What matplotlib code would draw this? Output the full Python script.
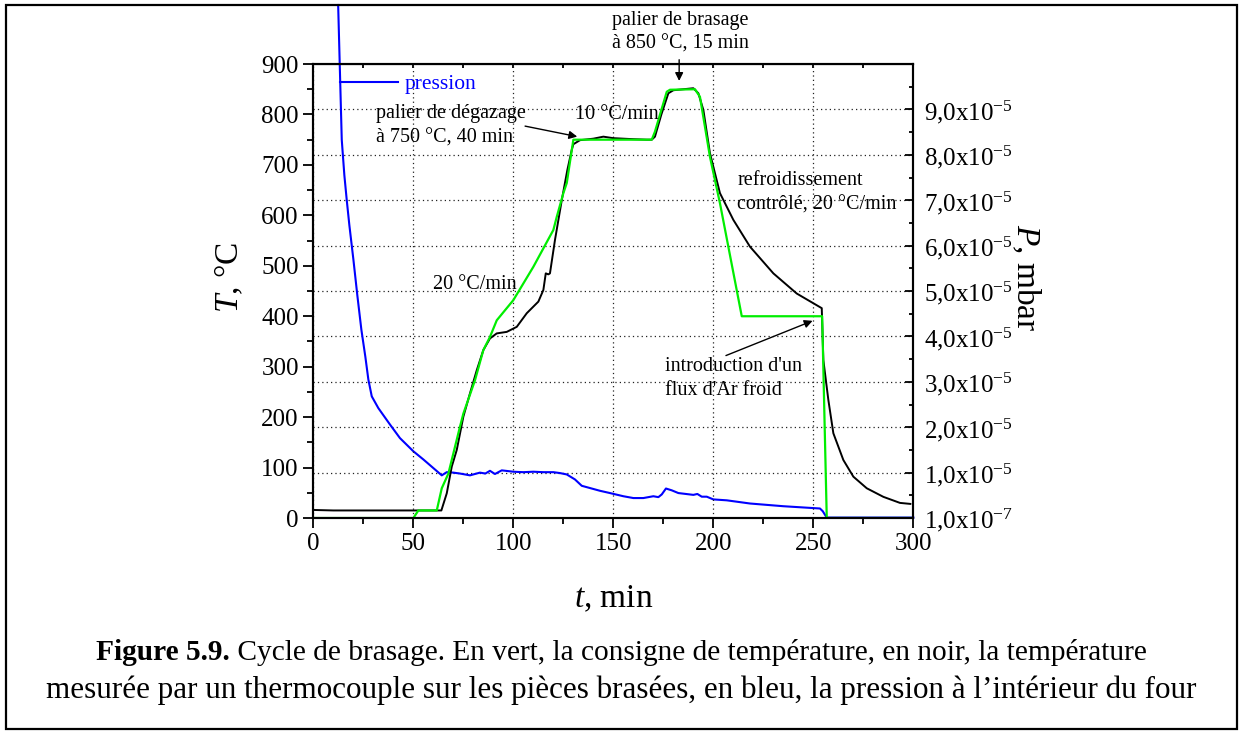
import numpy as np
import matplotlib
matplotlib.use("Agg")
import matplotlib.pyplot as plt
from matplotlib.ticker import MultipleLocator, FixedLocator

plt.rcParams['font.family'] = ['Liberation Serif', 'DejaVu Serif']
plt.rcParams['mathtext.fontset'] = 'custom'
plt.rcParams['mathtext.rm'] = 'Liberation Serif'
plt.rcParams['mathtext.it'] = 'Liberation Serif:italic'
plt.rcParams['mathtext.bf'] = 'Liberation Serif:bold'

# --- data ---
# measured temperature (black)
t_mes = [0, 10, 20, 30, 40, 50, 60, 64, 66.7, 69.2, 71.7, 75, 78.3, 81.7, 85, 88.3,
         91.7, 96.7, 101.7, 106.7, 112.5, 115, 116.2, 117.5, 118.3, 120.8, 124.2, 127, 129.2,
         130, 133.3, 140, 145, 150, 160, 166.7, 169.2, 170.8, 174, 177.5, 180, 185, 190,
         192.5, 195, 198.3, 203.3, 210, 218.3, 230, 241.7, 254.2, 255, 257.5, 260, 265,
         270, 276.7, 285, 293.3, 298.5]
T_mes = [16, 15, 15, 15, 15, 15, 15, 15, 49, 102, 135, 201, 247, 293, 333, 356,
         366, 369, 379, 406, 429, 452, 485, 483, 485, 551, 630, 690, 730,
         741, 749, 752, 756, 753, 751, 750, 750, 756, 800, 842, 848, 850, 852,
         842, 809, 723, 644, 591, 538, 485, 445, 416, 313, 234, 168, 115,
         82, 59, 42, 30, 28]

# temperature set point (green)
t_cons = [0, 50, 52.5, 61.7, 64.2, 67.5, 73.3, 75, 80.8, 85, 88.3, 91.7, 100, 110, 120,
          121.7, 125, 126.7, 130, 169.2, 170.8, 176.7, 178.3, 190.8, 193.3, 198.3, 203.3,
          214.2, 254.4, 256.7, 300]
T_cons = [0, 0, 15, 15, 59, 88, 181, 207, 273, 333, 359, 392, 432, 498, 571,
          597, 644, 664, 750, 750, 766, 845, 849, 850, 835, 716, 624,
          400, 400, 0, 0]

# pressure (blue), mbar
t_p = [12.4, 13.3, 14.2, 15.5, 16.7, 18, 20, 22, 24, 26, 27.5, 29.2, 32.5, 38.3, 43.3, 50, 55,
       60, 64.2, 66.7, 70, 73.3, 78.3, 83.3, 86, 88.3, 90.8, 94.2, 100, 105, 110, 115,
       120, 123.3, 126.7, 130.8, 134.2, 140, 143.3, 148.3, 155, 160, 165, 170, 172.5,
       174.2, 176.3, 179.2, 182.5, 190, 192, 194.2, 196.7, 200, 206.7, 218.3, 235,
       253.3, 254.7, 256.7, 300]
P = np.array([11.3, 9.81, 8.33, 7.55, 7.0, 6.45, 5.7, 4.9, 4.15, 3.55, 3.05, 2.68, 2.42, 2.06, 1.76, 1.47, 1.29,
              1.10, 0.94, 1.01, 1.00, 0.98, 0.94, 1.0, 0.98, 1.04, 0.97, 1.05, 1.02, 1.01, 1.02, 1.01,
              1.01, 0.99, 0.96, 0.85, 0.71, 0.64, 0.60, 0.55, 0.48, 0.44, 0.44, 0.48, 0.46,
              0.52, 0.65, 0.61, 0.55, 0.51, 0.53, 0.47, 0.47, 0.41, 0.39, 0.32, 0.26,
              0.21, 0.15, 0.01, 0.01]) * 1e-5

p_ticks = [1e-7, 1e-5, 2e-5, 3e-5, 4e-5, 5e-5, 6e-5, 7e-5, 8e-5, 9e-5]
p_labels = ['1,0x10$^{-7}$'] + ['%d,0x10$^{-5}$' % k for k in range(1, 10)]

caption_bold = "Figure 5.9."
caption_1 = " Cycle de brasage. En vert, la consigne de température, en noir, la température"
caption_2 = "mesurée par un thermocouple sur les pièces brasées, en bleu, la pression à l\u2019intérieur du four"

fig = plt.figure(figsize=(12.43, 7.35), dpi=100)
ax = fig.add_axes([0.2521, 0.2952, 0.4827, 0.6177])
ax2 = ax.twinx()
ax.set_zorder(ax2.get_zorder() + 1)
ax.patch.set_visible(False)

grid_kw = dict(color='#222222', linestyle=(0, (1, 2.5)), linewidth=0.9)

# pressure on the right axis
ax2.plot(t_p, P, color='#0000ff', lw=1.5, clip_on=False, label='pression')
ax2.set_ylim(0, 1e-4)
ax2.set_yticks(p_ticks, labels=p_labels)
ax2.yaxis.set_minor_locator(FixedLocator(np.arange(0.5e-5, 1e-4, 1e-5)))
ax2.tick_params(axis='y', which='major', direction='in', length=6, width=1.3, labelsize=18, pad=8)
ax2.tick_params(axis='y', which='minor', direction='in', length=3, width=1.3)
ax2.yaxis.grid(True, **grid_kw)
ax2.set_ylabel('$P$, mbar', fontsize=24, rotation=-90)
ax2.yaxis.set_label_coords(1.215, 0.53)
leg = ax2.legend(loc='upper left', bbox_to_anchor=(0.044, 0.978), frameon=False,
                 fontsize=15.5, handlelength=2.7, handletextpad=0.3, borderpad=0,
                 borderaxespad=0, labelcolor='#0000ff')

# temperatures on the left axis
ax.plot(t_mes, T_mes, color='k', lw=1.4)
ax.plot(t_cons, T_cons, color='#00ee00', lw=1.6)
ax.set_xlim(0, 300)
ax.set_ylim(0, 900)
ax.xaxis.set_major_locator(MultipleLocator(50))
ax.xaxis.set_minor_locator(MultipleLocator(25))
ax.yaxis.set_major_locator(MultipleLocator(100))
ax.yaxis.set_minor_locator(MultipleLocator(50))
ax.tick_params(which='major', direction='out', length=7, width=1.3, labelsize=18)
ax.tick_params(which='minor', direction='out', length=4, width=1.3)
ax.xaxis.grid(True, **grid_kw)
ax.set_xlabel('$t$, min', fontsize=24)
ax.set_ylabel('$T$, °C', fontsize=24)
ax.yaxis.set_label_coords(-0.113, 0.53)
ax.xaxis.set_label_coords(0.5, -0.145)

top = ax.secondary_xaxis('top')
top.set_xticks(np.arange(0, 301, 25))
top.set_xticklabels([])
top.tick_params(direction='in', length=3, width=1.3)

for a in (ax, ax2):
    for s in a.spines.values():
        s.set_linewidth(1.5)

# annotations
fs = 14.5
ls = 1.38
arrow = dict(arrowstyle='-|>', color='k', lw=1, mutation_scale=12)
ax.text(31.3, 778, "palier de dégazage\nà 750 °C, 40 min", fontsize=fs, va='center', linespacing=ls)
ax.annotate("", xy=(133.3, 755), xytext=(104.5, 778), arrowprops=arrow)
ax.text(130.8, 799, "10 °C/min", fontsize=fs, va='center')
ax.text(149.5, 963, "palier de brasage\nà 850 °C, 15 min", fontsize=fs, va='center', linespacing=ls)
ax.annotate("", xy=(182.9, 861), xytext=(182.9, 914), arrowprops=arrow, annotation_clip=False)
ax.text(211.9, 644, "refroidissement\ncontrôlé, 20 °C/min", fontsize=fs, va='center', linespacing=ls)
ax.text(59.9, 462, "20 °C/min", fontsize=fs, va='center')
ax.text(175.9, 276, "introduction d'un\nflux d'Ar froid", fontsize=fs, va='center', linespacing=ls)
ax.annotate("", xy=(250.9, 393), xytext=(205, 320), arrowprops=arrow)

# caption, first line has a bold start
y1 = 1 - 652 / 735
y2 = 1 - 690 / 735
tb = fig.text(0, y1, caption_bold, fontsize=21.2, weight='bold', va='center')
tr = fig.text(0, y1, caption_1, fontsize=21.2, va='center')
renderer = fig.canvas.get_renderer()
wb = tb.get_window_extent(renderer).width / fig.bbox.width
wr = tr.get_window_extent(renderer).width / fig.bbox.width
x0 = 0.5 - (wb + wr) / 2
tb.set_x(x0)
tr.set_x(x0 + wb)
fig.text(0.5, y2, caption_2, fontsize=22.4, ha='center', va='center')

fig.add_artist(plt.Rectangle((6 / 1243, 1 - 729 / 735), 1231 / 1243, 724 / 735,
                             transform=fig.transFigure, fill=False, lw=1.6, color='k'))

fig.savefig('out.png', dpi=100)
